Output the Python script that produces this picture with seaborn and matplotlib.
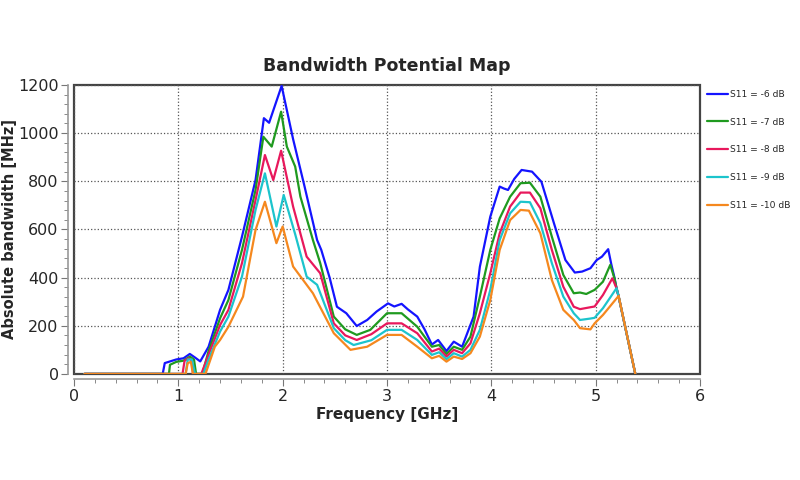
import pandas as pd
import seaborn as sns
import matplotlib.pyplot as plt
from matplotlib.ticker import MultipleLocator

# Datos (frecuencia en GHz, ancho de banda en MHz)
freq_6 = [0.10, 0.85, 0.87, 0.98, 1.05, 1.11, 1.16, 1.21, 1.29, 1.40, 1.48, 1.61, 1.74, 1.82,
          1.87, 1.99, 2.10, 2.21, 2.33, 2.37, 2.45, 2.52, 2.61, 2.71, 2.81, 2.90, 3.01, 3.07,
          3.14, 3.20, 3.29, 3.36, 3.43, 3.49, 3.57, 3.64, 3.72, 3.83, 3.89, 3.99, 4.08, 4.12,
          4.16, 4.22, 4.29, 4.39, 4.48, 4.60, 4.71, 4.80, 4.87, 4.95, 5.01, 5.06, 5.12, 5.15,
          5.18, 5.20, 5.22, 5.38]
bw_6 = [0, 0, 45, 60, 65, 83, 68, 52, 113, 266, 349, 570, 805, 1062,
        1043, 1196, 975, 778, 556, 515, 400, 279, 252, 199, 224, 259, 293, 280,
        291, 268, 238, 185, 122, 141, 95, 134, 113, 238, 445, 653, 778, 770,
        764, 810, 847, 840, 798, 626, 473, 421, 425, 439, 473, 487, 518, 455,
        400, 356, 322, 0]

freq_7 = [0.10, 0.91, 0.92, 0.98, 1.05, 1.11, 1.15, 1.17, 1.23, 1.29, 1.35, 1.40, 1.48, 1.61,
          1.74, 1.815, 1.895, 1.985, 2.04, 2.12, 2.17, 2.29, 2.36, 2.49, 2.60, 2.71, 2.84,
          3.00, 3.14, 3.29, 3.43, 3.50, 3.57, 3.64, 3.72, 3.80, 3.89, 3.99, 4.08, 4.18, 4.28,
          4.37, 4.47, 4.58, 4.69, 4.79, 4.85, 4.91, 4.99, 5.07, 5.14, 5.18, 5.20, 5.22, 5.38]
bw_7 = [0, 0, 38, 50, 55, 72, 60, 0, 0, 95, 169, 231, 307, 515,
        764, 985, 944, 1089, 944, 861, 736, 556, 460, 238, 185, 162, 183,
        252, 252, 196, 113, 120, 83, 113, 100, 155, 321, 515, 646, 736, 792,
        794, 736, 570, 411, 335, 338, 332, 349, 383, 453, 397, 356, 322, 0]

freq_8 = [0.10, 1.04, 1.06, 1.10, 1.13, 1.14, 1.22, 1.29, 1.40, 1.48, 1.61, 1.74, 1.83, 1.91,
          1.985, 2.10, 2.23, 2.36, 2.49, 2.60, 2.71, 2.85, 3.00, 3.14, 3.29, 3.43, 3.50, 3.57,
          3.64, 3.72, 3.80, 3.89, 3.99, 4.08, 4.18, 4.28, 4.37, 4.47, 4.58, 4.69, 4.79, 4.85,
          4.95, 4.99, 5.07, 5.16, 5.20, 5.22, 5.38]
bw_8 = [0, 0, 55, 65, 55, 0, 0, 80, 203, 266, 460, 722, 909, 805,
        927, 695, 487, 418, 210, 160, 141, 165, 210, 210, 169, 93, 105, 72,
        100, 86, 127, 252, 418, 584, 695, 753, 753, 688, 515, 362, 279, 269,
        277, 280, 328, 397, 356, 322, 0]

freq_9 = [0.10, 1.07, 1.09, 1.13, 1.16, 1.24, 1.29, 1.40, 1.48, 1.61, 1.74, 1.83, 1.94, 2.01,
          2.12, 2.23, 2.33, 2.49, 2.60, 2.68, 2.85, 3.00, 3.14, 3.29, 3.43, 3.50, 3.57, 3.64,
          3.72, 3.80, 3.89, 3.99, 4.08, 4.18, 4.28, 4.37, 4.47, 4.58, 4.69, 4.79, 4.85, 4.95,
          4.99, 5.07, 5.20, 5.22, 5.38]
bw_9 = [0, 0, 60, 60, 0, 0, 60, 176, 238, 404, 681, 833, 612, 743,
        580, 404, 370, 190, 140, 120, 140, 183, 183, 141, 79, 90, 61, 86,
        72, 100, 183, 349, 556, 667, 715, 713, 626, 460, 321, 252, 224, 230,
        233, 273, 356, 322, 0]

freq_10 = [0.10, 1.07, 1.09, 1.12, 1.14, 1.26, 1.35, 1.40, 1.48, 1.62, 1.74, 1.83, 1.94, 2.00,
           2.10, 2.29, 2.49, 2.65, 2.81, 3.00, 3.14, 3.29, 3.43, 3.50, 3.57, 3.64, 3.72, 3.80,
           3.89, 3.99, 4.08, 4.18, 4.28, 4.36, 4.47, 4.58, 4.69, 4.79, 4.85, 4.95, 4.99, 5.07,
           5.22, 5.38]
bw_10 = [0, 0, 45, 50, 0, 0, 113, 141, 196, 321, 598, 715, 543, 612,
         446, 335, 169, 100, 113, 162, 162, 113, 65, 75, 51, 72, 62, 86,
         155, 307, 515, 639, 681, 678, 584, 390, 266, 224, 190, 185, 210, 245,
         324, 0]

etiquetas = ['S11 = -6 dB', 'S11 = -7 dB', 'S11 = -8 dB', 'S11 = -9 dB', 'S11 = -10 dB']
colores = ['#1414ff', '#1f9a1f', '#e8185c', '#1cc4cc', '#f5881e']

series = [(freq_6, bw_6), (freq_7, bw_7), (freq_8, bw_8), (freq_9, bw_9), (freq_10, bw_10)]
df = pd.concat([pd.DataFrame({'Frecuencia': f, 'BW': b, 'Curva': et})
                for (f, b), et in zip(series, etiquetas)], ignore_index=True)

sns.set_style('white')
plt.rcParams['font.family'] = ['DejaVu Sans']

fig = plt.figure(figsize=(8, 4.8), dpi=100)
ax = fig.add_axes([0.0925, 0.221, 0.7825, 0.602])

sns.lineplot(data=df, x='Frecuencia', y='BW', hue='Curva', hue_order=etiquetas,
             palette=colores, sort=False, estimator=None, linewidth=1.6, ax=ax)

ax.set_xlim(0, 6)
ax.set_ylim(0, 1200)
ax.xaxis.set_major_locator(MultipleLocator(1))
ax.xaxis.set_minor_locator(MultipleLocator(0.2))
ax.yaxis.set_major_locator(MultipleLocator(200))
ax.yaxis.set_minor_locator(MultipleLocator(40))

ax.grid(True, which='major', linestyle=':', color='#555555', linewidth=0.9)

# ejes desplazados y marco del área de trazado
for lado in ['top', 'right']:
    ax.spines[lado].set_visible(False)
for lado in ['left', 'bottom']:
    ax.spines[lado].set_position(('outward', 4))
    ax.spines[lado].set_color('#9a9a9a')
    ax.spines[lado].set_linewidth(1.2)
ax.patch.set_edgecolor('#444444')
ax.patch.set_linewidth(1.6)

ax.tick_params(which='major', direction='out', length=5, color='#777777', labelsize=11.5,
               pad=2, left=True, bottom=True)
ax.tick_params(which='minor', direction='out', length=3, color='#777777', left=True, bottom=True)

ax.set_title('Bandwidth Potential Map', fontsize=12.5, fontweight='bold', pad=10)
ax.set_xlabel('Frequency [GHz]', fontsize=11, fontweight='bold', labelpad=2)
ax.set_ylabel('Absolute bandwidth [MHz]', fontsize=10.5, fontweight='bold', labelpad=1)

handles, labels = ax.get_legend_handles_labels()
ax.get_legend().remove()
fig.legend(handles, labels, loc='upper left', bbox_to_anchor=(0.874, 0.83), frameon=False,
           fontsize=6.6, labelspacing=2.05, handlelength=2.2, handletextpad=0.3)

plt.savefig('out.png', dpi=100)
